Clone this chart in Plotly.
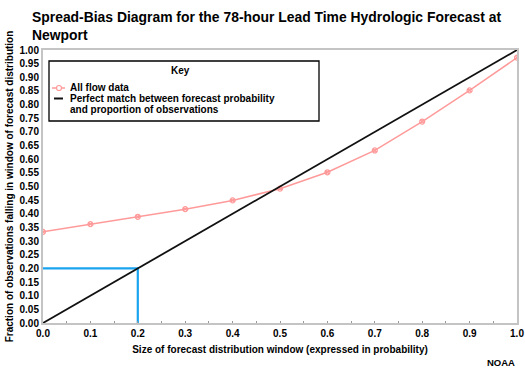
import plotly.graph_objects as go

x_vals = [0.0, 0.1, 0.2, 0.3, 0.4, 0.5, 0.6, 0.7, 0.8, 0.9, 1.0]
flow_vals = [0.334, 0.362, 0.389, 0.417, 0.449, 0.492, 0.552, 0.632, 0.738, 0.852, 0.972]
perfect_x = [0.0, 1.0]
perfect_y = [0.0, 1.0]
guide_x = [0.0, 0.2, 0.2]
guide_y = [0.2, 0.2, 0.0]
y_ticks = [round(i * 0.05, 2) for i in range(21)]
x_ticks = [round(i * 0.1, 1) for i in range(11)]

title_lines = ["Spread-Bias Diagram for the 78-hour Lead Time Hydrologic Forecast at", "Newport"]
legend_title = "Key"
flow_name = "All flow data"
perfect_lines = ["Perfect match between forecast probability", "and proportion of observations"]

FONT = "Liberation Sans, Arial, sans-serif"
W, H = 525, 370
ML, MR, MT, MB = 43, 8, 50, 47
PW, PH = W - ML - MR, H - MT - MB

def px(x):
    return (x - ML) / PW

def py(y):
    return (H - MB - y) / PH

PINK = "#ff9a9a"

fig = go.Figure()
fig.add_trace(go.Scatter(
    x=guide_x, y=guide_y, mode="lines",
    line=dict(color="#1aa3ef", width=2.2), showlegend=False, hoverinfo="skip"))
fig.add_trace(go.Scatter(
    x=x_vals, y=flow_vals, mode="lines+markers", name=flow_name,
    line=dict(color=PINK, width=1.5),
    marker=dict(symbol="circle-x-open", size=5, color=PINK, line=dict(width=1.2))))
fig.add_trace(go.Scatter(
    x=perfect_x, y=perfect_y, mode="lines", name=" ".join(perfect_lines),
    line=dict(color="#111111", width=1.8)))

fig.update_layout(
    width=W, height=H,
    margin=dict(l=ML, r=MR, t=MT, b=MB),
    paper_bgcolor="white", plot_bgcolor="white",
    font=dict(family=FONT, size=10, color="black"),
    showlegend=False,
)
fig.update_xaxes(
    range=[0, 1], tickvals=x_ticks, ticktext=[f"<b>{v:.1f}</b>" for v in x_ticks],
    showgrid=False, zeroline=False, showline=True, linecolor="#c4c4c4", linewidth=2, mirror=True,
    ticks="inside", ticklen=2, tickcolor="#999999",
    minor=dict(ticks="inside", dtick=0.05, ticklen=2, tickcolor="#999999"),
    tickfont=dict(size=10, family=FONT), automargin=False,
    title=dict(text="<b>Size of forecast distribution window (expressed in probability)</b>",
               font=dict(size=10), standoff=8))
fig.update_yaxes(
    range=[0, 1], tickvals=y_ticks, ticktext=[f"<b>{v:.2f}</b>" for v in y_ticks],
    showgrid=False, zeroline=False, showline=True, linecolor="#c4c4c4", linewidth=2, mirror=True,
    ticks="", tickfont=dict(size=10, family=FONT), automargin=False,
    title=dict(text="<b>Fraction of observations falling in window of forecast distribution</b>",
               font=dict(size=10), standoff=4))

# Title
fig.add_annotation(text="<b>" + "<br>".join(title_lines) + "</b>", xref="paper", yref="paper",
                   x=px(30), y=py(26), xanchor="left", yanchor="middle", align="left",
                   showarrow=False, font=dict(size=13.9, family=FONT))

# Legend ("Key" box)
fig.add_shape(type="rect", xref="paper", yref="paper",
              x0=px(49), x1=px(319), y0=py(121), y1=py(61),
              line=dict(color="black", width=1.3), fillcolor="white", layer="above")
fig.add_annotation(text=f"<b>{legend_title}</b>", xref="paper", yref="paper",
                   x=px(180), y=py(71), xanchor="center", yanchor="middle",
                   showarrow=False, font=dict(size=10))
fig.add_shape(type="line", xref="paper", yref="paper",
              x0=px(52), x1=px(65), y0=py(88), y1=py(88),
              line=dict(color=PINK, width=1.5), layer="above")
fig.add_shape(type="circle", xref="paper", yref="paper",
              x0=px(56.5), x1=px(61.5), y0=py(90.5), y1=py(85.5),
              line=dict(color=PINK, width=1.2), fillcolor="white", layer="above")
fig.add_annotation(text=f"<b>{flow_name}</b>", xref="paper", yref="paper",
                   x=px(68), y=py(88), xanchor="left", yanchor="middle",
                   showarrow=False, font=dict(size=10))
fig.add_shape(type="line", xref="paper", yref="paper",
              x0=px(54), x1=px(63), y0=py(98.5), y1=py(98.5),
              line=dict(color="#111111", width=2), layer="above")
for i, line in enumerate(perfect_lines):
    fig.add_annotation(text=f"<b>{line}</b>", xref="paper", yref="paper",
                       x=px(68), y=py(98.5 + 10.5 * i), xanchor="left", yanchor="middle",
                       showarrow=False, font=dict(size=10))

fig.add_annotation(text="<b>NOAA</b>", xref="paper", yref="paper", x=1.0, y=py(362),
                   xanchor="right", yanchor="middle", showarrow=False, font=dict(size=9.5))

fig.write_html("out.html", config={"displayModeBar": False},
               post_script="document.body.style.margin='0';document.body.style.overflow='hidden';")
